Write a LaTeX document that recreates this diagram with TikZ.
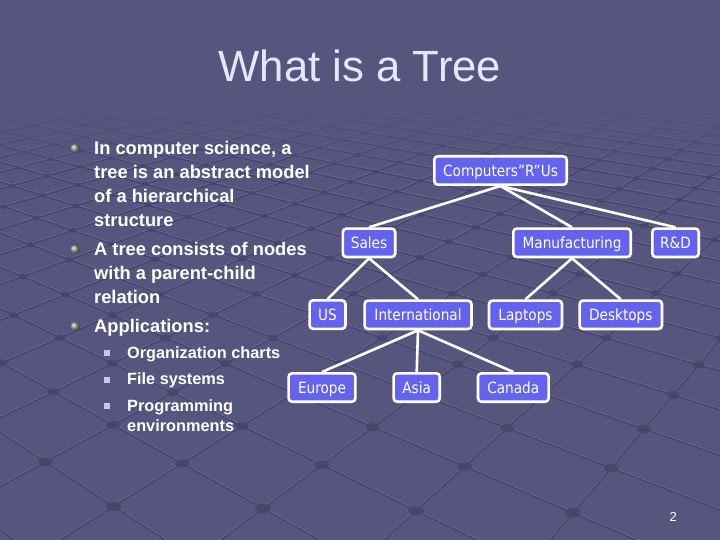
\documentclass[tikz,border=0pt]{standalone}
\usepackage{fontspec}
\setmainfont{Liberation Sans}
\newfontfamily\nodefont[FakeStretch=0.88]{DejaVu Sans}
\definecolor{bg}{HTML}{55557E}
\definecolor{nodeblue}{HTML}{6363EE}
\definecolor{titlecol}{HTML}{E6E6FA}
\definecolor{groove}{HTML}{3E3E62}
\definecolor{ridge}{HTML}{7474A8}
\definecolor{studcol}{HTML}{45456B}
\definecolor{subbullet}{HTML}{C4C4F0}
\newcommand\gridpt[3]{%
  \pgfmathsetmacro\gu{(#1+2)/2}%
  \pgfmathsetmacro\gv{(#2+3)/3}%
  \pgfmathsetmacro\gd{1-0.1267*\gu-0.1634*\gv}%
  \pgfmathsetmacro\gx{(94.73*\gu-180.95*\gv+493)/\gd}%
  \pgfmathsetmacro\gy{(6.95*\gu+19.23*\gv+338)/\gd}%
  \coordinate (#3) at (\gx,\gy);}
\tikzset{
  body/.style={anchor=base west, inner sep=0pt, text=white,
    font=\fontsize{18.3}{22}\selectfont\bfseries},
  subbody/.style={anchor=base west, inner sep=0pt, text=white,
    font=\fontsize{16.3}{20}\selectfont\bfseries},
  tn/.style={draw=white, line width=2.6pt, fill=nodeblue, rounded corners=3.5pt,
    text=white, font=\nodefont\fontsize{15.5}{18}\selectfont,
    text height=14pt, text depth=2.6pt,
    minimum height=28.4pt, inner xsep=2pt, inner ysep=0pt},
  edge/.style={draw=white, line width=2.6pt},
  ballbullet/.style={ball color=black!42},
  sqbullet/.style={fill=subbullet},
  grooveline/.style={groove, line width=1.2pt, opacity=0.75},
  ridgeline/.style={ridge, line width=0.9pt, opacity=0.55}
}
\begin{document}
\begin{tikzpicture}[x=1pt,y=-1pt]
\useasboundingbox (0,0) rectangle (720,540);
\fill[bg] (0,0) rectangle (720,540);
% background perspective grid texture
\begin{scope}
\clip (0,0) rectangle (720,540);
\foreach \c in {-30,...,3} {
  \gridpt{\c}{-25}{ga}\gridpt{\c}{6}{gb}
  \draw[ridgeline] ([yshift=1.3pt]ga) -- ([yshift=1.3pt]gb);
  \draw[grooveline] (ga) -- (gb);
}
\foreach \r in {-25,...,6} {
  \gridpt{-30}{\r}{ga}\gridpt{3}{\r}{gb}
  \draw[ridgeline] ([yshift=1.3pt]ga) -- ([yshift=1.3pt]gb);
  \draw[grooveline] (ga) -- (gb);
}
\foreach \c in {-30,...,3} {
  \foreach \r in {-25,...,6} {
    \gridpt{\c}{\r}{gs}
    \pgfmathsetmacro\grx{5.6/\gd}
    \pgfmathsetmacro\gry{3.4/\gd}
    \ifdim\gy pt>90pt \ifdim\gy pt<560pt \ifdim\gx pt>-20pt \ifdim\gx pt<740pt
      \fill[studcol, opacity=0.85] (gs) ellipse [x radius=\grx pt, y radius=\gry pt];
    \fi\fi\fi\fi
  }
}
\end{scope}
% fade texture out toward the top
\fill[bg] (0,0) rectangle (720,100);
\foreach \i in {0,...,17} {
  \pgfmathsetmacro\fo{1-\i/18}
  \fill[bg, opacity=\fo] (0,100+\i*4) rectangle (720,104+\i*4);
}
% title
\node[anchor=base, inner sep=0pt, text=titlecol, font=\fontsize{43.7}{50}\selectfont] (title) at (360,82) {What is a Tree};
% bullets
\shade[ballbullet] (75,148.5) circle (5);
\shade[ballbullet] (75,249.5) circle (5);
\shade[ballbullet] (75,326.5) circle (5);
\node[body] (t1) at (94,155) {In computer science, a};
\node[body] (t2) at (94,178.7) {tree is an abstract model};
\node[body] (t3) at (94,202.4) {of a hierarchical};
\node[body] (t4) at (94,226.1) {structure};
\node[body] (t5) at (94,255.7) {A tree consists of nodes};
\node[body] (t6) at (94,279.4) {with a parent-child};
\node[body] (t7) at (94,303.4) {relation};
\node[body] (t8) at (94,332.7) {Applications:};
% sub bullets
\fill[sqbullet] (104,350.3) rectangle (110,356.3);
\fill[sqbullet] (104,376.5) rectangle (110,382.5);
\fill[sqbullet] (104,403) rectangle (110,409);
\node[subbody] (s1) at (127,358.3) {Organization charts};
\node[subbody] (s2) at (127,384.3) {File systems};
\node[subbody] (s3) at (127,411) {Programming};
\node[subbody] (s4) at (127,431) {environments};
% tree
\node[tn, minimum width=132.4pt] (root) at (500.5,170.5) {Computers”R”Us};
\node[tn, minimum width=52.4pt] (sales) at (369,242.8) {Sales};
\node[tn, minimum width=117.4pt] (manu) at (572,242.8) {Manufacturing};
\node[tn, minimum width=46.4pt] (rd) at (675.5,242.8) {R\&D};
\node[tn, minimum width=35.9pt] (us) at (327.5,314.6) {US};
\node[tn, minimum width=106.9pt] (intl) at (418,314.8) {International};
\node[tn, minimum width=73pt] (lap) at (525.5,314.8) {Laptops};
\node[tn, minimum width=82.4pt] (desk) at (620.8,314.8) {Desktops};
\node[tn, minimum width=66.8pt] (eu) at (322,387.5) {Europe};
\node[tn, minimum width=46.1pt] (asia) at (416.7,387.5) {Asia};
\node[tn, minimum width=70.7pt] (can) at (513.3,387.5) {Canada};
\draw[edge] (root.south) -- (sales.north);
\draw[edge] (root.south) -- (manu.north);
\draw[edge] (root.south) -- (rd.north);
\draw[edge] (sales.south) -- (us.north);
\draw[edge] (sales.south) -- (intl.north);
\draw[edge] (manu.south) -- (lap.north);
\draw[edge] (manu.south) -- (desk.north);
\draw[edge] (intl.south) -- (eu.north);
\draw[edge] (intl.south) -- (asia.north);
\draw[edge] (intl.south) -- (can.north);
% page number
\node[anchor=base, inner sep=0pt, text=white, font=\fontsize{13}{15}\selectfont] (pg) at (673.3,521) {2};
\end{tikzpicture}
\end{document}
